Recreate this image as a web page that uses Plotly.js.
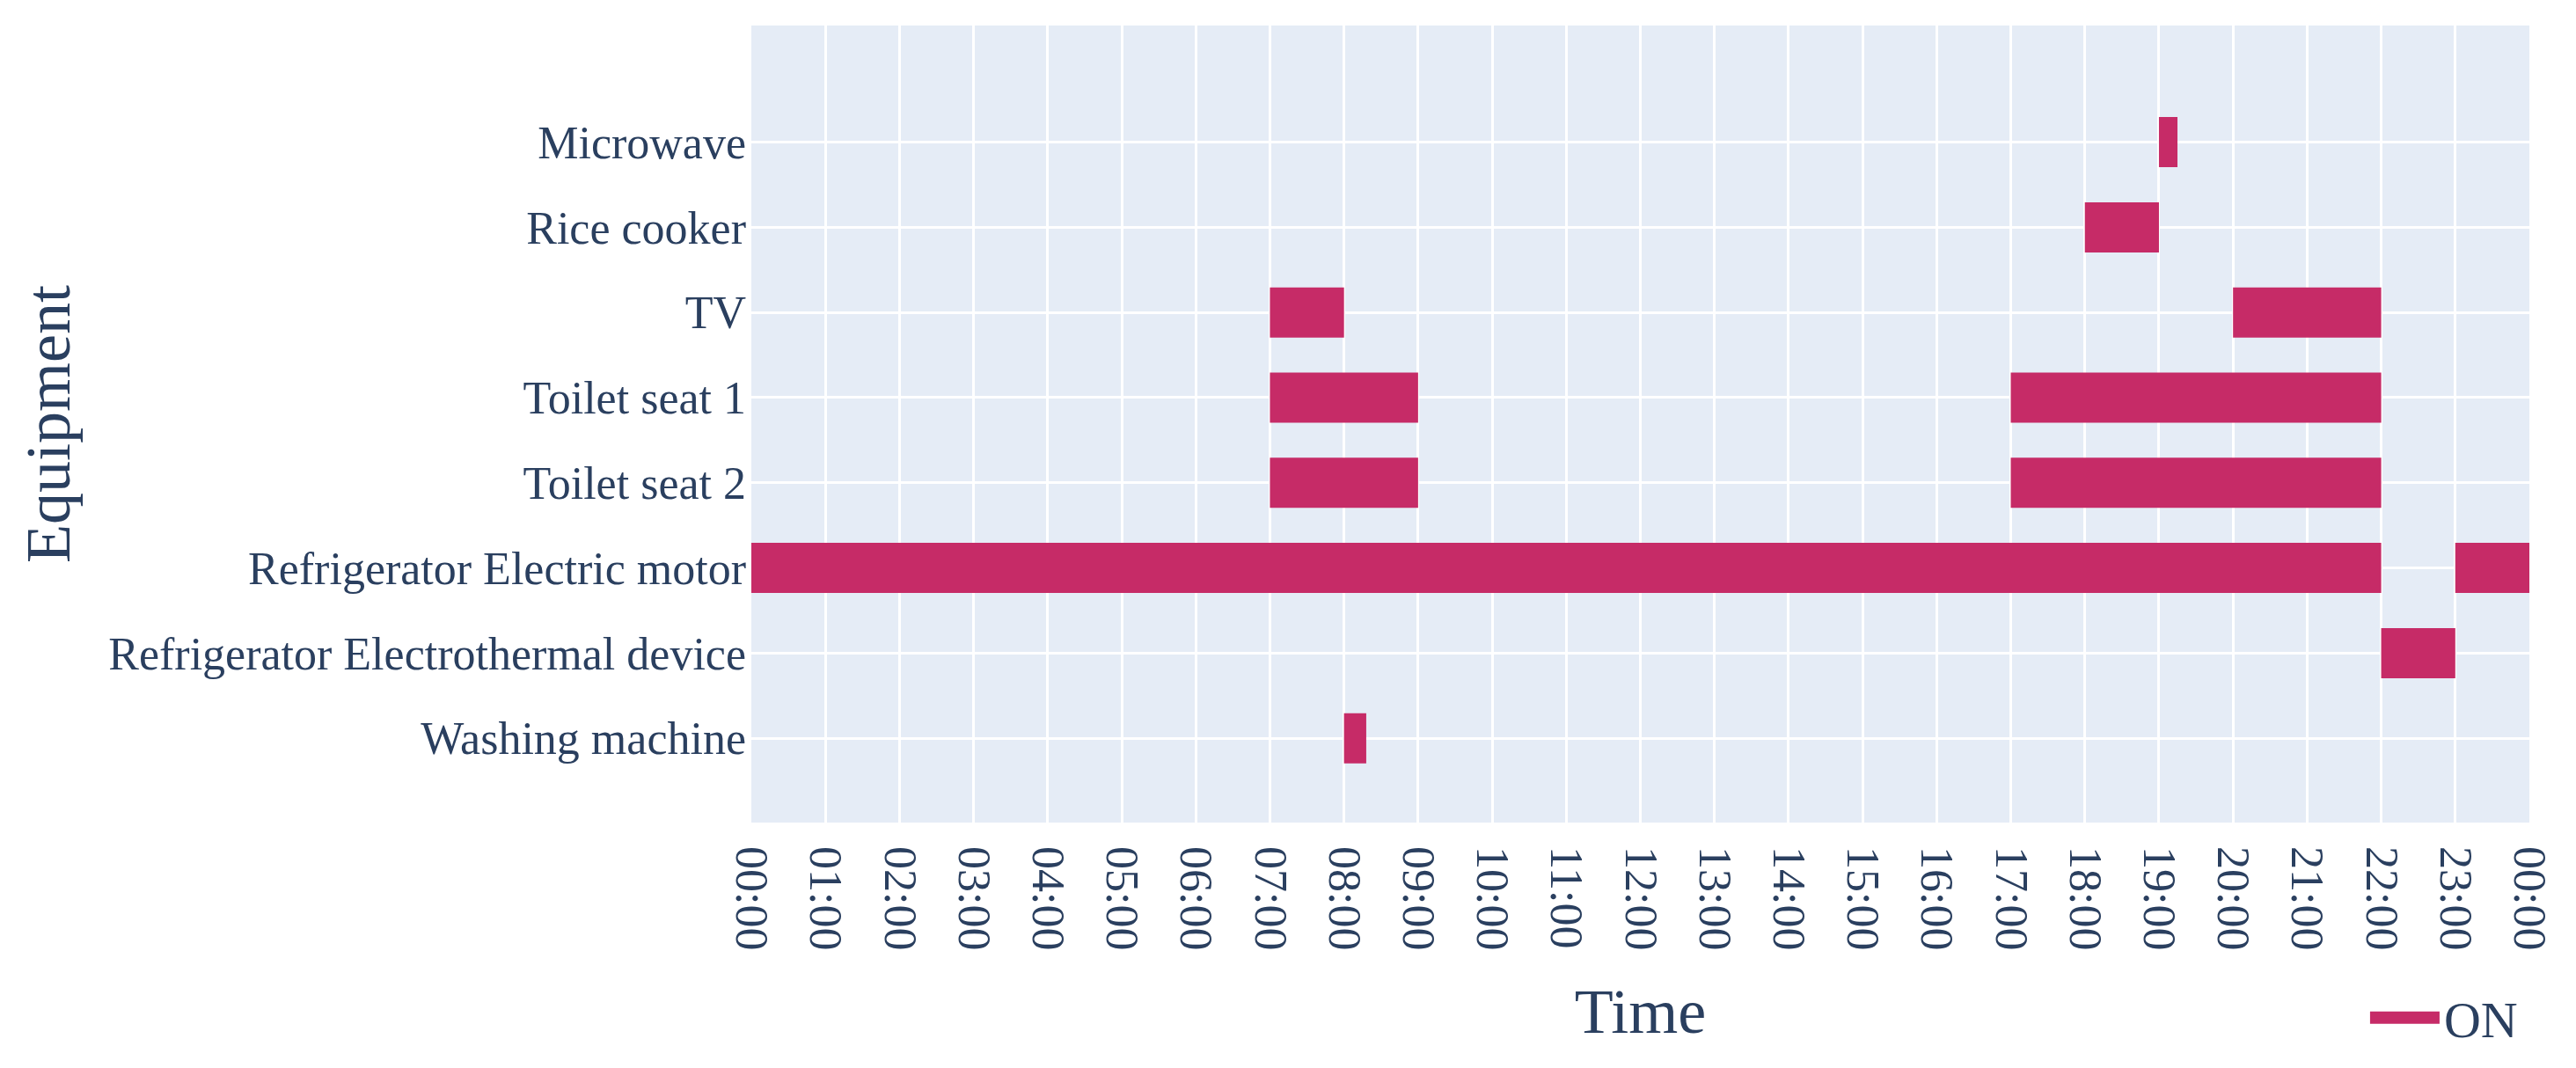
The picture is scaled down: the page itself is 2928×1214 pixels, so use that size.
<!DOCTYPE html>
<html>
<head>
<meta charset="utf-8">
<script src="https://cdn.plot.ly/plotly-3.0.1.min.js"></script>
<style>
  html, body { margin: 0; padding: 0; background: #ffffff; }
  #chart { width: 2928px; height: 1214px; }
  .legend .js-line { stroke-width: 14px !important; }
</style>
</head>
<body>
<div id="chart"></div>
<script>
// Equipment rows, listed from top to bottom as in the chart
const equipment = [
  'Microwave',
  'Rice cooker',
  'TV',
  'Toilet seat 1',
  'Toilet seat 2',
  'Refrigerator Electric motor',
  'Refrigerator Electrothermal device',
  'Washing machine'
];

// ON intervals (one entry per bar)
const taskEquipment = [
  'Microwave',
  'Rice cooker',
  'TV', 'TV',
  'Toilet seat 1', 'Toilet seat 1',
  'Toilet seat 2', 'Toilet seat 2',
  'Refrigerator Electric motor', 'Refrigerator Electric motor',
  'Refrigerator Electrothermal device',
  'Washing machine'
];
const startTimes = ['19:00', '18:00', '07:00', '20:00', '07:00', '17:00', '07:00', '17:00', '00:00', '23:00', '22:00', '08:00'];
const endTimes   = ['19:15', '19:00', '08:00', '22:00', '09:00', '22:00', '09:00', '22:00', '22:00', '24:00', '23:00', '08:18'];

const dayStart = '2024-01-01 00:00';
const dayEnd = '2024-01-02 00:00';
const statusName = 'ON';

function toDate(hhmm) {
  if (hhmm === '24:00') return dayEnd;
  return '2024-01-01 ' + hhmm;
}

const xs = [], ys = [];
for (let i = 0; i < taskEquipment.length; i++) {
  xs.push(toDate(startTimes[i]), toDate(endTimes[i]), null);
  ys.push(taskEquipment[i], taskEquipment[i], null);
}

const barColor = '#C62B67';
const textColor = '#2a3f5f';
const fontFamily = '"Liberation Serif", "Times New Roman", Times, serif';

const trace = {
  type: 'scatter',
  mode: 'lines',
  name: statusName,
  x: xs,
  y: ys,
  line: { color: barColor, width: 57 },
  connectgaps: false,
  hoverinfo: 'skip',
  showlegend: true
};

const layout = {
  width: 2928,
  height: 1214,
  margin: { l: 854, r: 53, t: 29, b: 276, pad: 0 },
  paper_bgcolor: '#ffffff',
  plot_bgcolor: '#E5ECF6',
  font: { family: fontFamily, color: textColor, size: 52 },
  showlegend: true,
  legend: {
    x: 0.996, xanchor: 'right',
    y: -0.245, yanchor: 'middle',
    font: { family: fontFamily, size: 58, color: textColor },
    itemwidth: 79,
    bgcolor: 'rgba(0,0,0,0)'
  },
  xaxis: {
    type: 'date',
    range: [dayStart, dayEnd],
    dtick: 3600000,
    tick0: dayStart,
    tickformat: '%H:%M',
    tickangle: 90,
    ticks: '',
    ticklabelstandoff: 26,
    tickfont: { family: fontFamily, size: 52, color: textColor },
    gridcolor: '#ffffff',
    gridwidth: 3,
    zeroline: false,
    showline: false,
    automargin: false,
    title: { text: 'Time', font: { family: fontFamily, size: 72, color: textColor }, standoff: 44 }
  },
  yaxis: {
    type: 'category',
    categoryorder: 'array',
    categoryarray: equipment.slice().reverse(),
    range: [-0.99, 8.37],
    ticks: '',
    ticklabelstandoff: 5,
    tickfont: { family: fontFamily, size: 52, color: textColor },
    gridcolor: '#ffffff',
    gridwidth: 3,
    zeroline: false,
    showline: false,
    automargin: false,
    title: { text: 'Equipment', font: { family: fontFamily, size: 72, color: textColor }, standoff: 20 }
  }
};

Plotly.newPlot('chart', [trace], layout, { displayModeBar: false, staticPlot: true });
</script>
</body>
</html>
